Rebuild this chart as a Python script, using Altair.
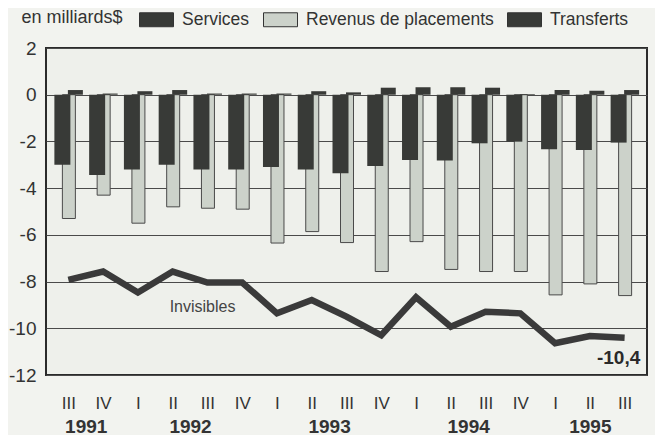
import altair as alt
import pandas as pd

quarters = ["III", "IV", "I", "II", "III", "IV", "I", "II", "III",
            "IV", "I", "II", "III", "IV", "I", "II", "III"]
years = ["1991", "1992", "1993", "1994", "1995"]
year_pos = [0.5, 3.5, 7.5, 11.5, 15]
series = ["Services", "Revenus de placements", "Transferts"]
services = [-3.0, -3.44, -3.2, -3.0, -3.2, -3.2, -3.1, -3.2, -3.36,
            -3.05, -2.79, -2.82, -2.08, -2.01, -2.34, -2.37, -2.05]
revenus = [-5.3, -4.3, -5.5, -4.8, -4.86, -4.9, -6.35, -5.86, -6.33,
           -7.57, -6.29, -7.48, -7.57, -7.57, -8.57, -8.1, -8.6]
transferts = [0.2, 0.05, 0.15, 0.2, 0.05, 0.05, 0.05, 0.15, 0.1,
              0.3, 0.32, 0.32, 0.3, 0.03, 0.2, 0.17, 0.2]
invisibles = [-7.93, -7.57, -8.47, -7.57, -8.04, -8.04, -9.36, -8.79, -9.5,
              -10.3, -8.67, -9.93, -9.29, -9.36, -10.64, -10.33, -10.4]
y_ticks = [2, 0, -2, -4, -6, -8, -10, -12]

n = len(quarters)
idx = list(range(n))
bars = pd.DataFrame({
    "idx": idx * 3,
    "serie": [series[0]] * n + [series[1]] * n + [series[2]] * n,
    "value": services + revenus + transferts,
})
line_df = pd.DataFrame({"idx": idx, "value": invisibles})
ann = pd.DataFrame({"idx": [3.86], "value": [-9.1], "label": ["Invisibles"]})
last = pd.DataFrame({"idx": [16.45], "value": [-11.27], "label": ["-10,4"]})
unit = pd.DataFrame({"idx": [-1.35], "value": [3.28], "label": ["en milliards$"]})

DARK = "#383a37"
LIGHT = "#ccd2ca"
TXT = "#333333"
FONT = "Liberation Sans"

xscale = alt.Scale(domain=[-0.5, n - 0.5], nice=False, zero=False)
yscale = alt.Scale(domain=[-12, 2], nice=False)

roman_expr = "[" + ",".join(f"'{q}'" for q in quarters) + "][datum.value]"
year_expr = " : ".join(f"datum.value == {p} ? '{y}'" for p, y in zip(year_pos, years)) + " : ''"

roman_axis = alt.Axis(values=idx, labelExpr=roman_expr, ticks=False, domain=False,
                      grid=False, labelFontSize=17, labelColor=TXT, labelPadding=20,
                      title=None, labelFont=FONT)
year_axis = alt.Axis(values=year_pos, labelExpr=year_expr, ticks=False, domain=False,
                     grid=False, labelFontSize=19, labelFontWeight="bold", labelColor=TXT,
                     labelPadding=42, title=None, orient="bottom", labelFont=FONT)
y_axis = alt.Axis(values=y_ticks, labelExpr="'' + datum.value", ticks=False, domain=False,
                  grid=True, gridColor="#4a4a4a", gridWidth=1, labelFontSize=19,
                  labelColor=TXT, labelPadding=10, title=None, labelFont=FONT)

color = alt.Color(
    "serie:N",
    scale=alt.Scale(domain=series, range=[DARK, LIGHT, DARK]),
    legend=alt.Legend(
        orient="none", legendX=93, legendY=-46, direction="horizontal",
        title=None,
        labelFontSize=17.5, labelColor=TXT, labelOffset=8, columnPadding=11,
        labelLimit=400, labelFont=FONT,
        symbolType="M-1,-0.41H1V0.41H-1Z", symbolSize=1156,
        symbolStrokeColor="#333", symbolStrokeWidth=1, symbolOpacity=1,
    ),
)

base = alt.Chart(bars)
X = alt.X("idx:Q", scale=xscale, axis=None)
Y = alt.Y("value:Q", scale=yscale, axis=y_axis)

rev = base.transform_filter(alt.datum.serie == series[1]).mark_bar(
    size=13, xOffset=0.5, stroke="#4a4a4a", strokeWidth=1
).encode(
    x=alt.X("idx:Q", scale=xscale, axis=roman_axis),
    y=Y,
    color=color,
)
svc = base.transform_filter(alt.datum.serie == series[0]).mark_bar(
    size=16, xOffset=-6
).encode(x=X, y=Y, color=color)
trf = base.transform_filter(alt.datum.serie == series[2]).mark_bar(
    size=15, xOffset=7
).encode(x=X, y=Y, color=color)
line = alt.Chart(line_df).mark_line(strokeWidth=6.5, color="#3a3a3a").encode(
    x=alt.X("idx:Q", scale=xscale, axis=year_axis),
    y=Y,
)
t1 = alt.Chart(ann).mark_text(fontSize=16, color="#444", font=FONT).encode(
    x=X, y=Y, text="label:N",
)
t2 = alt.Chart(last).mark_text(fontSize=19, fontWeight="bold", color="#2a2a2a",
                               align="right", font=FONT).encode(
    x=X, y=Y, text="label:N",
)
t3 = alt.Chart(unit).mark_text(fontSize=18, color=TXT, align="left",
                               baseline="middle", font=FONT).encode(
    x=X, y=Y, text="label:N",
)

chart = alt.layer(rev, svc, trf, line, t1, t2, t3).resolve_axis(x="independent").properties(
    width=601, height=327,
    autosize=alt.AutoSizeParams(type="none"),
    padding={"left": 38, "top": 40, "right": 8, "bottom": 60},
    background="#f2f3ef",
).configure(font=FONT).configure_view(
    stroke="#2b2b2b", strokeWidth=2, fill="#eef0eb"
)

chart.save("out.html", embed_options={"renderer": "svg", "actions": False})
